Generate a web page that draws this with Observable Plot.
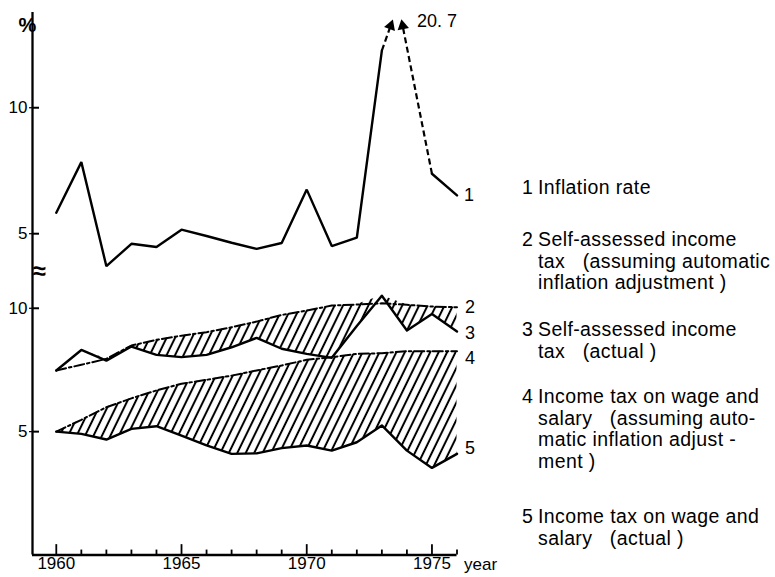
<!DOCTYPE html>
<html>
<head>
<meta charset="utf-8">
<script src="https://cdn.jsdelivr.net/npm/d3@7"></script>
<script src="https://cdn.jsdelivr.net/npm/@observablehq/plot@0.6"></script>
<style>
  html, body { margin: 0; padding: 0; background: #fff; }
  #wrap { position: relative; width: 775px; height: 577px; overflow: hidden; background: #fff; }
  #chart svg { display: block; }
  .leg { position: absolute; left: 522px; display: flex; font-family: "Liberation Sans", Arial, sans-serif; font-size: 19.5px; letter-spacing: 0.4px; color: #000; line-height: 21.5px; }
  .leg .num { width: 16px; }
  .leg .txt { white-space: pre; }
</style>
</head>
<body>
<svg width="0" height="0" style="position:absolute">
  <defs>
    <pattern id="hatch" patternUnits="userSpaceOnUse" width="7.6" height="7.6" patternTransform="rotate(26)">
      <line x1="3.8" y1="-1" x2="3.8" y2="9" stroke="#000" stroke-width="2"/>
    </pattern>
  </defs>
</svg>
<div id="wrap">
  <div id="chart"></div>
  <div id="legend"></div>
</div>
<script>
// ---------- data ----------
const years = [1960,1961,1962,1963,1964,1965,1966,1967,1968,1969,1970,1971,1972,1973,1974,1975,1976];
// 1 Inflation rate (%)
const inflation = [5.83,7.84,3.71,4.60,4.47,5.16,4.91,4.64,4.40,4.63,6.75,4.51,4.84,12.27,20.7,7.38,6.52];
// 2 Self-assessed income tax (assuming automatic inflation adjustment)
const selfAdjusted = [7.48,7.71,7.95,8.49,8.72,8.89,9.03,9.23,9.46,9.73,9.91,10.11,10.15,10.20,10.14,10.07,10.04];
// 3 Self-assessed income tax (actual)
const selfActual = [7.48,8.31,7.88,8.45,8.11,8.02,8.11,8.42,8.80,8.36,8.15,7.99,9.28,10.51,9.10,9.77,9.06];
// 4 Income tax on wage and salary (assuming automatic inflation adjustment)
const wageAdjusted = [5.00,5.48,5.99,6.35,6.67,6.94,7.10,7.27,7.48,7.68,7.91,8.02,8.15,8.18,8.26,8.26,8.26];
// 5 Income tax on wage and salary (actual)
const wageActual = [5.00,4.91,4.68,5.11,5.22,4.84,4.44,4.10,4.12,4.33,4.44,4.23,4.57,5.25,4.23,3.53,4.10];

const xTicks = [1960,1965,1970,1975];
const yTicks = [5,10];
const peakLabel = "20. 7";
const legendItems = [
  ["1", ["Inflation rate"]],
  ["2", ["Self-assessed income", "tax   (assuming automatic", "inflation adjustment )"]],
  ["3", ["Self-assessed income", "tax   (actual )"]],
  ["4", ["Income tax on wage and", "salary   (assuming auto-", "matic inflation adjust -", "ment )"]],
  ["5", ["Income tax on wage and", "salary   (actual )"]]
];

// ---------- layout ----------
const W = 775;
const xDomain = [1959.05, 1976];
const mL = 32, mR = 318.5;
const topDomain = [3.46, 13.78];
const botDomain = [0, 11.45];
const capValue = 13.25;          // where the off-scale peak arrows are cut
const font = "Liberation Sans, Arial, sans-serif";

const rows = years.map((year, i) => ({
  year,
  infl: inflation[i],
  s2: selfAdjusted[i],
  s3: selfActual[i],
  s4: wageAdjusted[i],
  s5: wageActual[i]
}));
const last = rows[rows.length - 1];
const iPeak = inflation.indexOf(d3.max(inflation));
const peakYear = years[iPeak];
const arrows = [
  {x1: years[iPeak - 1], y1: inflation[iPeak - 1], x2: peakYear - 0.65, y2: capValue, rot: 20},
  {x1: years[iPeak + 1], y1: inflation[iPeak + 1], x2: peakYear - 0.17, y2: capValue, rot: -11}
];

// ---------- top panel: inflation ----------
const topChart = Plot.plot({
  width: W, height: 272,
  marginTop: 12, marginBottom: 0, marginLeft: mL, marginRight: mR,
  x: {domain: xDomain, axis: null},
  y: {domain: topDomain, axis: null},
  style: {fontFamily: font, fontSize: "17px", background: "transparent", overflow: "visible", color: "#000"},
  marks: [
    Plot.ruleX([xDomain[0]], {stroke: "#000", strokeWidth: 2.3}),
    Plot.axisY({ticks: yTicks, tickSize: 3, tickPadding: 2, fontSize: 17, label: null, tickFormat: d => d, stroke: "#000", strokeWidth: 1.2}),
    Plot.ruleY(yTicks, {x1: xDomain[0], x2: xDomain[0] + 0.28, stroke: "#000", strokeWidth: 2}),
    Plot.line(rows, {x: "year", y: d => d.infl <= topDomain[1] ? d.infl : NaN, stroke: "#000", strokeWidth: 2.4, strokeLinejoin: "miter"}),
    Plot.link(arrows, {x1: "x1", y1: "y1", x2: "x2", y2: "y2", stroke: "#000", strokeWidth: 2.2, strokeDasharray: "6,3.5"}),
    Plot.dot(arrows, {x: "x2", y: "y2", symbol: "triangle2", r: 5.5, fill: "#000", stroke: "none", rotate: "rot"}),
    Plot.text([peakLabel], {x: peakYear, y: capValue, text: d => d, dx: 30, dy: -5, fontSize: 18}),
    Plot.text(["1"], {x: last.year, y: last.infl, text: d => d, dx: 12, fontSize: 18}),
    Plot.text(["%"], {frameAnchor: "top-left", text: d => d, dx: -14, dy: 5, fontSize: 20, fontWeight: "bold"})
  ]
});

// ---------- bottom panel: taxes ----------
const seriesLabel = (k, v, dy) => Plot.text([k], {x: last.year, y: v, text: d => d, dx: 13, dy, fontSize: 18});
const bottomChart = Plot.plot({
  width: W, height: 305,
  marginTop: 0, marginBottom: 22.5, marginLeft: mL, marginRight: mR,
  x: {domain: xDomain, axis: null},
  y: {domain: botDomain, axis: null},
  style: {fontFamily: font, fontSize: "17px", background: "transparent", overflow: "visible", color: "#000"},
  marks: [
    Plot.areaY(rows, {x: "year", y1: "s3", y2: d => Math.max(d.s2, d.s3), fill: "url(#hatch)"}),
    Plot.areaY(rows, {x: "year", y1: "s5", y2: "s4", fill: "url(#hatch)"}),
    Plot.line(rows, {x: "year", y: "s2", stroke: "#000", strokeWidth: 2, strokeDasharray: "10,3,2.5,3"}),
    Plot.line(rows, {x: "year", y: "s3", stroke: "#000", strokeWidth: 2.4}),
    Plot.line(rows, {x: "year", y: "s4", stroke: "#000", strokeWidth: 2, strokeDasharray: "10,3,2.5,3"}),
    Plot.line(rows, {x: "year", y: "s5", stroke: "#000", strokeWidth: 2.4}),
    Plot.ruleX([xDomain[0]], {stroke: "#000", strokeWidth: 2.3}),
    Plot.ruleY([0], {stroke: "#000", strokeWidth: 2.3}),
    Plot.ruleX(years, {y1: 0, y2: d => xTicks.includes(d) ? 0.42 : 0.2, stroke: "#000", strokeWidth: 1.8}),
    Plot.axisX({ticks: xTicks, tickSize: 0, tickPadding: 2, fontSize: 17, label: null, tickFormat: d => String(d)}),
    Plot.axisY({ticks: yTicks, tickSize: 3, tickPadding: 2, fontSize: 17, label: null, tickFormat: d => d, stroke: "#000", strokeWidth: 1.2}),
    Plot.ruleY(yTicks, {x1: xDomain[0], x2: xDomain[0] + 0.28, stroke: "#000", strokeWidth: 2}),
    Plot.text(["year"], {frameAnchor: "bottom-right", text: d => d, textAnchor: "start", lineAnchor: "top", dx: 7, dy: 3, fontSize: 17}),
    Plot.text(["≈"], {frameAnchor: "top-left", text: d => d, fontSize: 24, fontWeight: "bold", lineAnchor: "middle", dy: -1}),
    seriesLabel("2", last.s2, 0),
    seriesLabel("3", last.s3, 2),
    seriesLabel("4", last.s4, 7),
    seriesLabel("5", last.s5, -6)
  ]
});

document.getElementById("chart").append(topChart, bottomChart);

// ---------- legend ----------
const legendTops = [188, 240, 330, 397, 517];
const legend = document.getElementById("legend");
legendItems.forEach(([num, lines], i) => {
  const item = document.createElement("div");
  item.className = "leg";
  item.style.top = (legendTops[i] - 11) + "px";
  const n = document.createElement("div");
  n.className = "num"; n.textContent = num;
  const t = document.createElement("div");
  t.className = "txt"; t.textContent = lines.join("\n");
  item.append(n, t);
  legend.append(item);
});
</script>
</body>
</html>
